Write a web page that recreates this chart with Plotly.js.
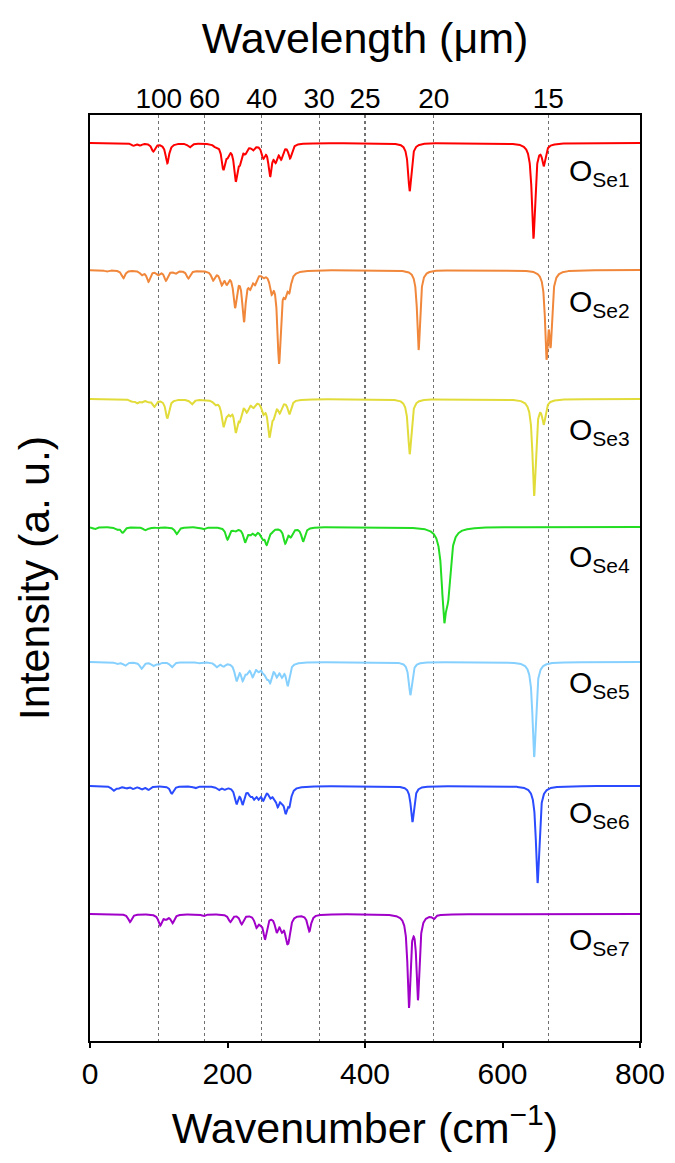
<!DOCTYPE html>
<html>
<head>
<meta charset="utf-8">
<script src="https://cdn.plot.ly/plotly-3.0.1.min.js"></script>
<style>html,body{margin:0;padding:0;background:#fff;}#chart{width:675px;height:1163px;}</style>
</head>
<body>
<div id="chart"></div>
<script>
// ---- DATA ----
const seriesNames = ['Se1', 'Se2', 'Se3', 'Se4', 'Se5', 'Se6', 'Se7'];
// vertical offsets of each spectrum (intensity, arbitrary units)
const baselines = [898, 771, 642, 514, 379, 255, 127];
// peak positions (cm-1) and depths (a.u.)
const se1Pos = [63, 73, 92, 112.5, 145, 182, 194, 200, 212, 218, 226, 237, 252, 262, 270, 278, 291, 465, 645, 660];
const se1Amp = [2.5, 2, 8, 20, 4, 2, 24, 8, 34, 14, 7, 5, 12, 30, 14, 13, 14, 48, 95, 20];
const se2Pos = [24, 48.5, 75, 85, 99, 110.5, 124, 143, 179, 191.5, 199, 211, 224, 233, 240, 252, 264, 275, 284, 290, 478, 664, 670];
const se2Amp = [1.5, 8, 4, 11, 4, 10, 3, 8, 9, 12, 10, 34, 48, 12, 10, 4, 17, 90, 16, 16, 80, 80, 66];
const se3Pos = [60.6, 68, 75, 85, 93.5, 112.5, 148, 182, 194, 199, 204, 212, 218, 228, 237.5, 252, 261, 267, 276, 290, 465, 646, 660];
const se3Amp = [2, 3.5, 2.5, 2, 7, 19, 5, 4, 24, 7, 9, 28, 15, 10, 6, 11, 34, 12, 11, 14, 55, 96, 22];
const se4Pos = [7, 39, 47.5, 80, 87, 99, 126, 165, 200, 211, 225.5, 233, 240, 248, 251, 257, 264, 284, 292, 310, 515, 521];
const se4Amp = [2, 2.5, 5.5, 3, 1, 1, 7, 2, 12, 3, 14, 5, 6, 2, 8, 15, 3, 15, 8, 14, 80, 50];
const se5Pos = [39, 51, 75, 92, 99, 119, 160, 184, 194, 213, 222, 228, 236.5, 245, 252, 257, 262, 271.5, 279, 287.5, 466, 646];
const se5Amp = [2, 3.5, 6.5, 3.5, 2, 5, 1, 4.5, 3.5, 17, 15, 7, 12, 6, 6, 10, 16, 11, 11, 22, 33, 95];
const se6Pos = [34, 41, 53, 63, 75, 85, 119, 153, 187, 196, 213, 222, 233, 238.5, 245, 252, 262, 268, 273, 279, 284.5, 290, 469, 651];
const se6Amp = [4.5, 2, 2, 2.5, 3, 3.5, 7.5, 2, 3.5, 2.5, 16, 16, 6, 9, 9, 11, 8, 6, 15, 9, 21, 15, 36, 97];
const se7Pos = [58, 102, 110.5, 120, 165, 204, 220.5, 242, 248, 254.5, 271.5, 279, 286, 289, 319, 464, 477, 500];
const se7Amp = [8, 11, 4, 8.5, 2, 7.5, 9.5, 11, 5, 23, 15, 12, 17, 18, 17, 91, 83, 4];
// Lorentzian half widths (cm-1): below / above 400 cm-1
const gammaLow  = [3, 3, 3, 3, 3, 3, 3];
const gammaHigh = [2.8, 2.5, 2.8, 4, 2.8, 2.8, 2.5];
// top axis: wavelength tick labels (um)
const wavelengths = [100, 60, 40, 30, 25, 20, 15];
const wavenumberTicks = [0, 200, 400, 600, 800];

// ---- STYLE / LAYOUT ----
const colors = ['#ff0000', '#f0873a', '#e2dc3a', '#22dd22', '#86d0ff', '#2a4bff', '#a000c8'];
const labelDrop = [29, 33, 32, 31, 22, 28, 27];   // label placement below each baseline
const peakPos = [se1Pos, se2Pos, se3Pos, se4Pos, se5Pos, se6Pos, se7Pos];
const peakAmp = [se1Amp, se2Amp, se3Amp, se4Amp, se5Amp, se6Amp, se7Amp];

const xs = [];
for (let i = 0; i <= 3200; i++) xs.push(i * 0.25);

const traces = seriesNames.map((name, s) => {
  const ys = xs.map(x => {
    let v = baselines[s];
    peakPos[s].forEach((p, k) => {
      const g = p > 400 ? gammaHigh[s] : gammaLow[s];
      const d = x - p;
      v -= peakAmp[s][k] * g * g / (d * d + g * g);
    });
    return v;
  });
  return {x: xs, y: ys, type: 'scatter', mode: 'lines', name: 'O' + name,
          line: {color: colors[s], width: 2}, hoverinfo: 'skip'};
});
// invisible trace to activate the top axis
traces.push({x: [0, 800], y: [0, 0], xaxis: 'x2', yaxis: 'y', mode: 'markers',
             marker: {opacity: 0}, hoverinfo: 'skip', showlegend: false});

const annotations = seriesNames.map((name, s) => ({
  x: 694, y: baselines[s] - labelDrop[s], xref: 'x', yref: 'y', xanchor: 'left', yanchor: 'middle',
  text: 'O<sub>' + name + '</sub>', showarrow: false,
  font: {size: 30, color: '#000', family: 'Liberation Sans, Arial, sans-serif'}
}));

const layout = {
  width: 675, height: 1163,
  margin: {l: 90, r: 35, t: 115, b: 122},
  paper_bgcolor: '#fff', plot_bgcolor: '#fff',
  showlegend: false,
  font: {family: 'Liberation Sans, Arial, sans-serif', color: '#000'},
  xaxis: {range: [0, 800], tickvals: wavenumberTicks, ticks: 'outside', ticklen: 5, tickwidth: 2,
          tickcolor: '#000', showline: true, linewidth: 2, linecolor: '#000', mirror: true,
          showgrid: false, zeroline: false, tickfont: {size: 30},
          title: {text: 'Wavenumber (cm<sup>\u22121</sup>)', font: {size: 43}, standoff: 24}},
  xaxis2: {overlaying: 'x', side: 'top', range: [0, 800],
           tickvals: wavelengths.map(w => 10000 / w), ticktext: wavelengths.map(String),
           ticks: '', showgrid: true, griddash: '3px,3px', gridcolor: '#707070', gridwidth: 1.2,
           showline: false, zeroline: false, tickfont: {size: 28},
           title: {text: 'Wavelength (\u03bcm)', font: {size: 43}, standoff: 16}},
  yaxis: {range: [0, 926], showticklabels: false, ticks: '', showgrid: false, zeroline: false,
          showline: true, linewidth: 2, linecolor: '#000', mirror: true,
          title: {text: 'Intensity (a. u.)', font: {size: 43}, standoff: 25}},
  annotations: annotations
};

Plotly.newPlot('chart', traces, layout, {staticPlot: true});
</script>
</body>
</html>
